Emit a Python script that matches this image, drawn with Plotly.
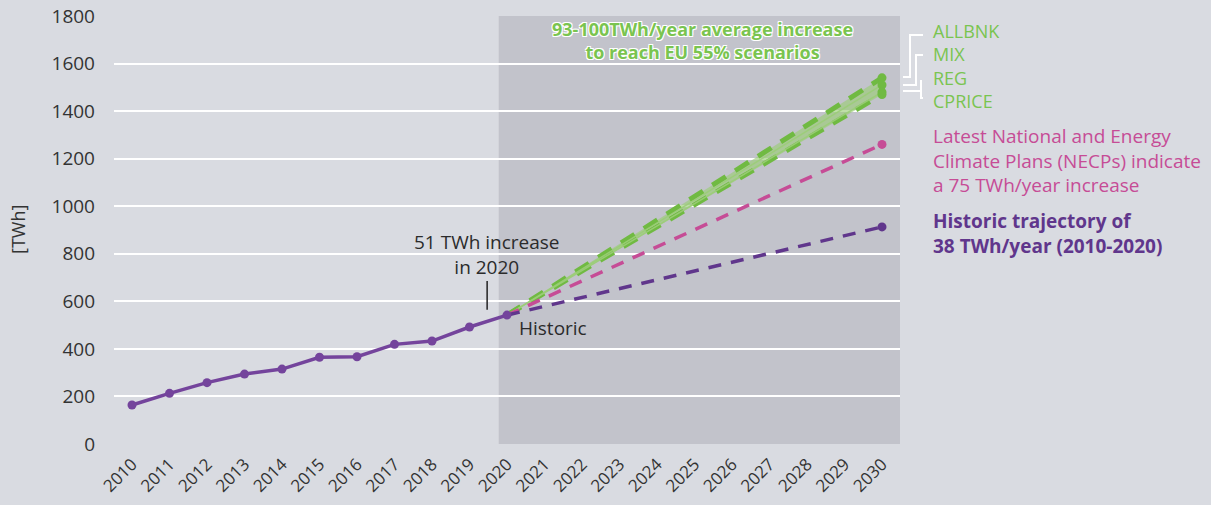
import plotly.graph_objects as go

# ---------------- data ----------------
years = list(range(2010, 2031))
hist_years = list(range(2010, 2021))
historic = [164, 213, 258, 294, 315, 365, 367, 419, 433, 492, 542]

proj_years = [2020, 2030]
start_2020 = 542
allbnk_2030 = 1540
mix_2030 = 1510
reg_2030 = 1480
cprice_2030 = 1470
necp_2030 = 1260
hist_traj_2030 = 913

y_ticks = [0, 200, 400, 600, 800, 1000, 1200, 1400, 1600, 1800]

# ---------------- style ----------------
BG = "rgb(217,219,225)"
PURPLE = "rgb(116,68,156)"
DPURPLE = "rgb(96,54,140)"
PINK = "rgb(198,76,150)"
GREEN = "rgb(112,186,66)"
LGREEN = "rgb(122,196,80)"
FONT = "Open Sans"
TXT = "#2b2b2b"

# plot area in pixels
L, R, T, B = 114, 900, 16, 444
W, H = 1211, 505


def px(x):
    return (x - L) / (R - L)


def py(y):
    return (B - y) / (B - T)


fig = go.Figure()

# green band (CPRICE lower, ALLBNK upper)
fig.add_trace(go.Scatter(x=proj_years, y=[start_2020, cprice_2030], mode="lines",
                         line=dict(color=GREEN, width=5, dash="16px,11px"), showlegend=False))
fig.add_trace(go.Scatter(x=proj_years, y=[start_2020, allbnk_2030], mode="lines",
                         line=dict(color=GREEN, width=5, dash="16px,11px"), fill="tonexty",
                         fillcolor="rgba(155,205,120,0.65)", showlegend=False))
for v in [mix_2030, reg_2030]:
    fig.add_trace(go.Scatter(x=proj_years, y=[start_2020, v], mode="lines",
                             line=dict(color="rgba(155,205,120,0.9)", width=1.5), showlegend=False))
fig.add_trace(go.Scatter(x=[2030] * 4, y=[allbnk_2030, mix_2030, reg_2030, cprice_2030],
                         mode="markers", marker=dict(color=GREEN, size=9), showlegend=False))

# NECP
fig.add_trace(go.Scatter(x=proj_years, y=[start_2020, necp_2030], mode="lines",
                         line=dict(color=PINK, width=3.5, dash="13px,10px"), showlegend=False))
fig.add_trace(go.Scatter(x=[2030], y=[necp_2030], mode="markers",
                         marker=dict(size=9, color=PINK), showlegend=False))
# Historic trajectory
fig.add_trace(go.Scatter(x=proj_years, y=[start_2020, hist_traj_2030], mode="lines",
                         line=dict(color=DPURPLE, width=3.5, dash="13px,10px"), showlegend=False))
fig.add_trace(go.Scatter(x=[2030], y=[hist_traj_2030], mode="markers",
                         marker=dict(size=9, color=DPURPLE), showlegend=False))
# Historic
fig.add_trace(go.Scatter(x=hist_years, y=historic, mode="lines+markers",
                         line=dict(color=PURPLE, width=3.5),
                         marker=dict(size=9, color=PURPLE), showlegend=False))

shapes = [
    dict(type="rect", xref="x", yref="paper", x0=2019.78, x1=2030.5, y0=0, y1=1,
         fillcolor="rgba(128,124,140,0.25)", line=dict(width=0), layer="between"),
    dict(type="line", xref="x", yref="y", x0=2019.47, x1=2019.47, y0=565, y1=685,
         line=dict(color="#222", width=1.5)),
]
# brackets on the right
brackets = [
    [(923, 35), (910, 35), (910, 77), (903, 77)],
    [(923, 55), (916, 55), (916, 85), (903, 85)],
    [(923, 98), (921, 98), (921, 80)],
    [(921, 91), (903, 91)],
]
for pts in brackets:
    path = "M " + " L ".join(f"{px(a)},{py(b)}" for a, b in pts)
    shapes.append(dict(type="path", xref="paper", yref="paper", path=path,
                       line=dict(color="white", width=2)))

annotations = []


def note(text, xp, yp, color, size=19, weight="normal", xanchor="left", shadow=None,
         align="left"):
    f = dict(family=FONT, size=size, color=color, weight=weight)
    if shadow:
        f["shadow"] = shadow
    annotations.append(dict(text=text, xref="paper", yref="paper", x=px(xp), y=py(yp),
                            showarrow=False, font=f, xanchor=xanchor, yanchor="middle",
                            align=align))


OUTLINE = "-1px -1px 0 #fff, 1px -1px 0 #fff, -1px 1px 0 #fff, 1px 1px 0 #fff"
note("93-100TWh/year average increase<br>to reach EU 55% scenarios", 702, 40, LGREEN, 18,
     "bold", "center", OUTLINE, "center")
note("51 TWh increase<br>in 2020", 487, 254, TXT, 19, xanchor="center", align="center")
note("Historic", 517, 328, TXT, 19)
annotations.append(dict(text="[TWh]", xref="paper", yref="paper", x=px(18), y=py(230),
                        showarrow=False, textangle=-90,
                        font=dict(family=FONT, size=18, color="#333"),
                        xanchor="center", yanchor="middle"))
note("ALLBNK<br>MIX<br>REG<br>CPRICE", 931, 66, LGREEN, 18)
note("Latest National and Energy<br>Climate Plans (NECPs) indicate<br>a 75 TWh/year increase",
     931, 161, PINK, 19)
note("Historic trajectory of<br>38 TWh/year (2010-2020)", 931, 233, DPURPLE, 19, "bold")

fig.update_layout(
    width=W, height=H,
    margin=dict(l=L, r=W - R, t=T, b=H - B, autoexpand=False),
    paper_bgcolor=BG, plot_bgcolor=BG,
    font=dict(family=FONT, color="#333"),
    shapes=shapes, annotations=annotations,
    xaxis=dict(range=[2009.52, 2030.48], tickvals=years, ticktext=[str(y) for y in years],
               tickangle=-45, showgrid=False, zeroline=False, showline=False, automargin=False,
               tickfont=dict(family=FONT, size=17, color="#333"), ticklabelstandoff=6,
               fixedrange=True),
    yaxis=dict(range=[0, 1800], tickvals=y_ticks, showgrid=True, gridcolor="white",
               gridwidth=2, zeroline=False, showline=False, automargin=False,
               tickfont=dict(family=FONT, size=19, color="#333"), ticklabelstandoff=18,
               fixedrange=True),
)

fig.write_html("out.html", config={"displayModeBar": False})
with open("out.html", "r", encoding="utf-8") as fh:
    html = fh.read()
html = html.replace("<head>", "<head><style>html,body{margin:0;padding:0;overflow:hidden;background:rgb(217,219,225);}</style>", 1)
with open("out.html", "w", encoding="utf-8") as fh:
    fh.write(html)
